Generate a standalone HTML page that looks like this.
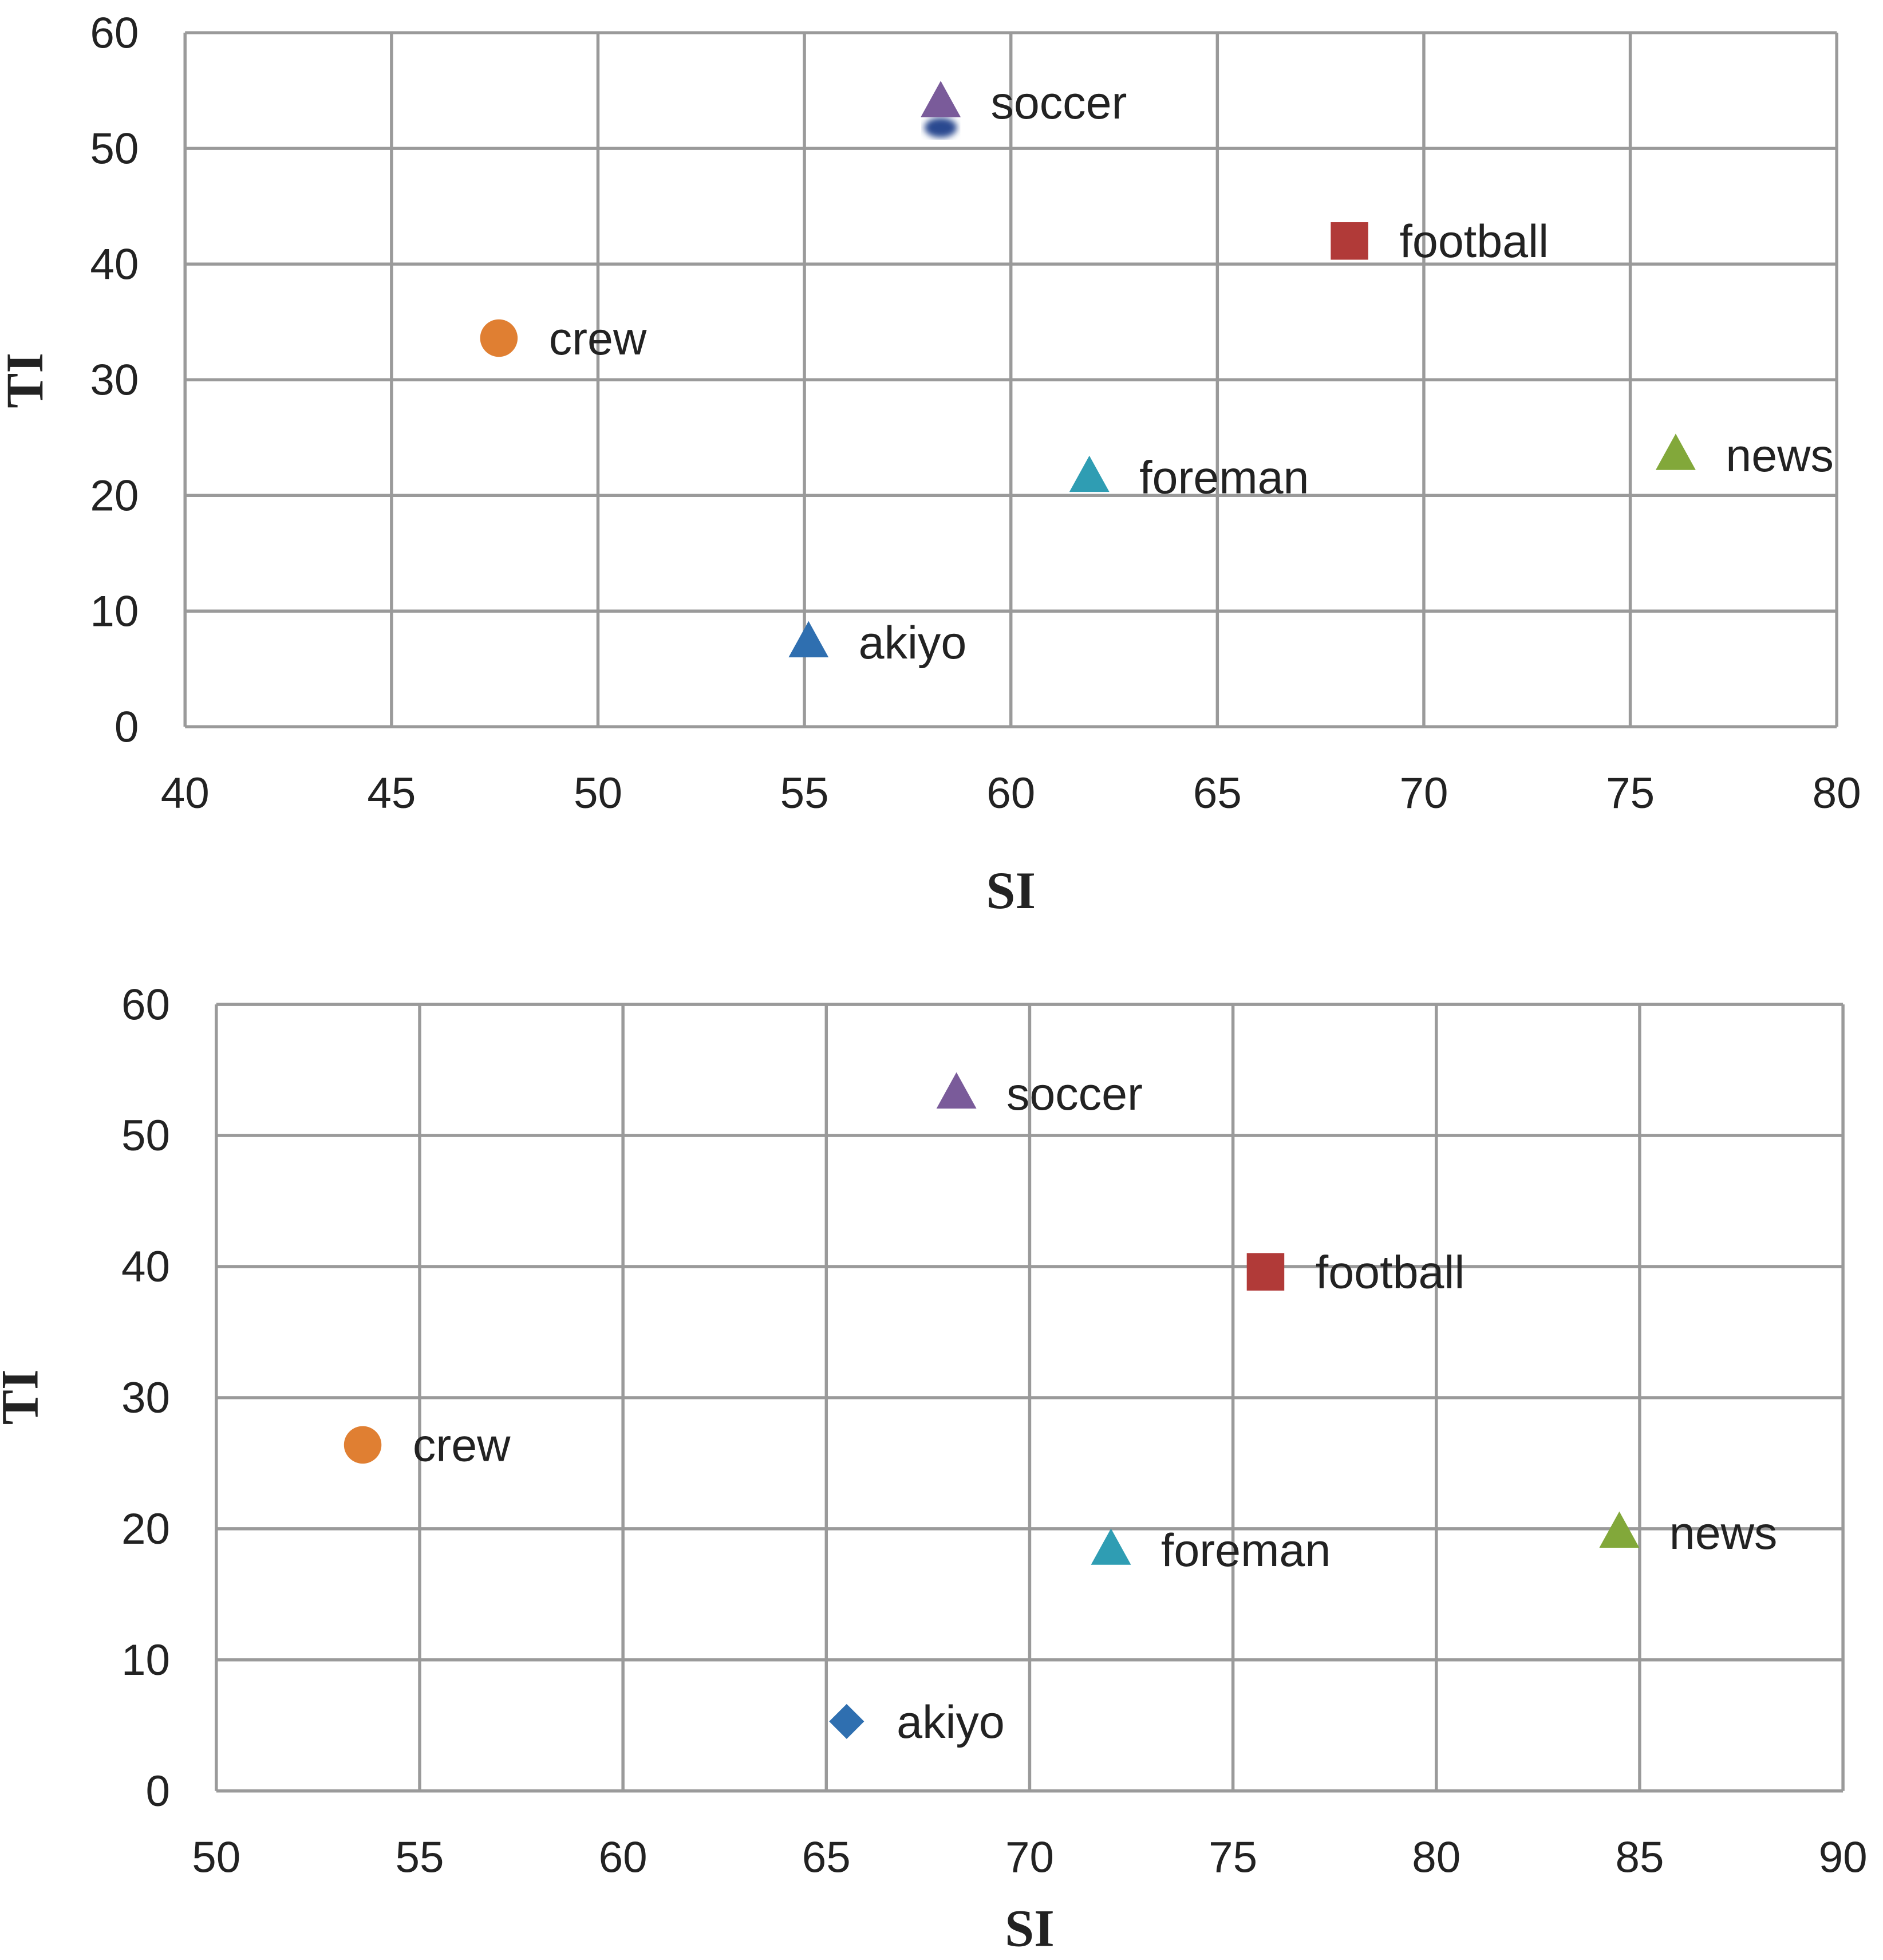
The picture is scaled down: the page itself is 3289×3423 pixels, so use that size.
<!DOCTYPE html>
<html><head><meta charset="utf-8"><style>
html,body{margin:0;padding:0;background:#fff;}
svg{display:block;}
text{font-family:"Liberation Sans",sans-serif;}
text.serif{font-family:"Liberation Serif",serif;}
</style></head><body>
<svg id="s" width="3289" height="3423" viewBox="0 0 1506 1567" xmlns="http://www.w3.org/2000/svg">
<defs><filter id="blur"><feGaussianBlur stdDeviation="2.5"/></filter></defs>
</svg>
<script>
const names = ["soccer","football","crew","foreman","news","akiyo"];
const shapesTop = ["tri","sq","circ","tri","tri","tri"];
const shapesBot = ["tri","sq","circ","tri","tri","diam"];
const colors = ["#7a5b9a","#b13a38","#e07f32","#2f9db3","#82a83a","#2f6fb0"];
const siTop = [58.3,68.2,47.6,61.9,76.1,55.1];
const tiTop = [54.0,42.0,33.6,21.6,23.5,7.3];
const siBot = [68.2,75.8,53.6,72.0,84.5,65.5];
const tiBot = [53.2,39.6,26.4,18.4,19.7,5.3];
const xTicksTop = [40,45,50,55,60,65,70,75,80];
const xTicksBot = [50,55,60,65,70,75,80,85,90];
const yTicks = [0,10,20,30,40,50,60];

const svg=document.getElementById('s');
const NS='http://www.w3.org/2000/svg';
function el(t,a,p){const e=document.createElementNS(NS,t);for(const k in a)e.setAttribute(k,a[k]);(p||svg).appendChild(e);return e;}

function chart(id,L,R,B,T,xt,si,ti,shapes,xTitleY,yTitleX,yTitleY,ghost){
  const g=el('g',{});
  
  
  const x0=xt[0],x1=xt[xt.length-1];
  const sx=v=>L+(v-x0)/(x1-x0)*(R-L);
  const sy=v=>B-(v/60)*(B-T);
  xt.forEach(v=>{
    const l=el('line',{x1:sx(v),x2:sx(v),y1:T,y2:B,stroke:'#9a9a9a','stroke-width':2.5},g);
    
    
    const t=el('text',{x:sx(v),y:B+65,'text-anchor':'middle','font-size':35,fill:'#222'},g);
    t.textContent=v;
    
    
  });
  yTicks.forEach(v=>{
    const l=el('line',{x1:L,x2:R,y1:sy(v),y2:sy(v),stroke:'#9a9a9a','stroke-width':2.5},g);
    
    
    const t=el('text',{x:L-37,y:sy(v)+12,'text-anchor':'end','font-size':35,fill:'#222'},g);
    t.textContent=v;
    
    
  });
  const xtT=el('text',{class:'serif',x:(L+R)/2,y:xTitleY,'text-anchor':'middle','font-size':42,'font-weight':'bold',fill:'#222'},g);
  xtT.textContent='SI';
  
  
  const ytT=el('text',{class:'serif',x:yTitleX,y:yTitleY,'text-anchor':'middle','font-size':42,'font-weight':'bold',fill:'#222',transform:`rotate(-90 ${yTitleX} ${yTitleY})`},g);
  ytT.textContent='TI';
  
  
  if(ghost){
    const cx=sx(ghost[0]),cy=sy(ghost[1]);
    const d=el('ellipse',{cx:cx,cy:cy,rx:13,ry:8,fill:'#2a4a90',filter:'url(#blur)'},g);
    
    
  }
  names.forEach((n,i)=>{
    const cx=sx(si[i]),cy=sy(ti[i]),c=colors[i];let m;
    if(shapes[i]==='tri')m=el('polygon',{points:`${cx},${cy-17} ${cx-16},${cy+12} ${cx+16},${cy+12}`,fill:c},g);
    else if(shapes[i]==='sq')m=el('rect',{x:cx-15,y:cy-15,width:30,height:30,fill:c},g);
    else if(shapes[i]==='circ')m=el('circle',{cx:cx,cy:cy,r:15,fill:c},g);
    else m=el('polygon',{points:`${cx},${cy-14} ${cx+14},${cy} ${cx},${cy+14} ${cx-14},${cy}`,fill:c},g);
    
    
    const t=el('text',{x:cx+40,y:cy+13,'font-size':37,fill:'#222'},g);
    t.textContent=n;
    
    
  });
}
chart('chart-top',148,1469,581,26,xTicksTop,siTop,tiTop,shapesTop,726,34,304,[58.3,51.8]);
chart('chart-bottom',173,1474,1432,803,xTicksBot,siBot,tiBot,shapesBot,1556,30,1117,null);
</script>
</body></html>
